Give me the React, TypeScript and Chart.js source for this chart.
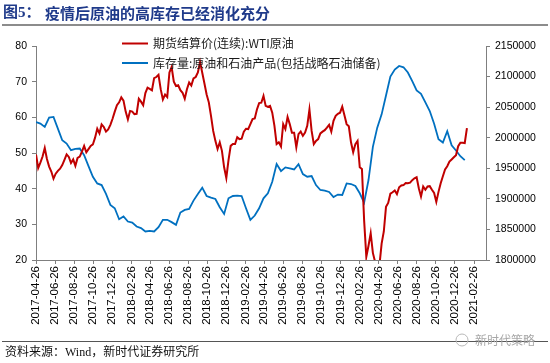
import React, { useEffect, useRef } from 'react';
import { Chart, registerables } from 'chart.js';

Chart.register(...registerables);

// ---- texts ----
const TITLE_PREFIX = '图5：';
const TITLE = '疫情后原油的高库存已经消化充分';
const SOURCE = '资料来源：Wind，新时代证券研究所';
const WATERMARK = '新时代策略';

// ---- dates / categories ----
const startDate = '2017-04-26';
const axisEndDate = '2021-04-05';
const tickLabels = [
  '2017-04-26', '2017-06-26', '2017-08-26', '2017-10-26', '2017-12-26',
  '2018-02-26', '2018-04-26', '2018-06-26', '2018-08-26', '2018-10-26', '2018-12-26',
  '2019-02-26', '2019-04-26', '2019-06-26', '2019-08-26', '2019-10-26', '2019-12-26',
  '2020-02-26', '2020-04-26', '2020-06-26', '2020-08-26', '2020-10-26', '2020-12-26',
  '2021-02-26',
];

// ---- series ----
const wtiLabel = '期货结算价(连续):WTI原油';
const invLabel = '库存量:原油和石油产品(包括战略石油储备)';
const wtiStepDays = 7; // weekly samples from startDate
const invStepDays = 14; // bi-weekly samples from startDate

const wtiWeekly = [
  49.6, 45.8, 47.3, 49.0, 51.4, 48.3, 46.2, 44.8, 42.8, 44.2,
  45.0, 45.6, 46.6, 48.1, 49.6, 48.9, 47.2, 48.2, 46.4, 48.6,
  49.0, 50.4, 52.0, 50.2, 51.1, 52.0, 52.4, 54.3, 56.8, 55.5,
  58.0, 57.3, 56.0, 56.6, 57.9, 59.6, 61.6, 63.4, 64.2, 65.6,
  64.7, 61.6, 59.4, 61.8, 61.6, 60.9, 61.0, 65.2, 64.4, 63.4,
  66.8, 68.3, 68.0, 67.6, 71.0, 71.3, 71.9, 67.9, 65.0, 66.4,
  65.7, 72.6, 74.1, 70.0, 68.8, 69.0, 67.6, 66.9, 65.2, 67.9,
  69.8, 68.9, 70.9, 71.3, 72.6, 75.5, 72.5, 69.5, 66.4, 64.2,
  60.4, 56.2, 53.4, 51.1, 53.0, 50.6, 46.0, 43.0, 48.0, 52.0,
  52.5, 52.5, 54.4, 53.9, 54.0, 56.0, 56.8, 56.7, 58.1, 59.5,
  59.7, 62.2, 64.0, 64.1, 66.0, 63.2, 62.9, 63.2, 61.3, 57.6,
  52.5, 53.0, 51.8, 58.1, 56.7, 60.1, 58.1, 55.7, 55.7, 51.6,
  55.3, 56.0, 54.8, 55.7, 57.6, 62.2, 56.2, 52.5, 53.4, 53.9,
  55.5, 56.0, 56.4, 57.1, 57.9, 56.0, 59.0, 60.4, 61.0, 61.3,
  63.0, 60.6, 58.1, 57.5, 53.0, 50.2, 52.5, 53.4, 46.0, 45.5,
  31.1, 20.9, 24.0, 27.5, 22.0, 19.5, 10.0, 18.5, 24.6, 28.0,
  34.9, 36.0, 38.6, 39.0, 39.5, 38.5, 40.4, 40.9, 41.0, 41.6,
  41.5, 41.7, 42.4, 42.9, 43.2, 40.1, 37.8, 40.6, 39.7, 40.6,
  40.7, 39.7, 38.8, 36.3, 39.1, 41.5, 43.5, 45.4, 46.3, 47.6,
  48.2, 48.8, 49.4, 51.9, 52.9, 52.9, 52.8, 57.0,
];

const invBiweekly = [
  2025700, 2023000, 2017600, 2033000, 2034000, 2014900, 1995900, 1990500, 1979600, 1981800,
  1982300, 1971500, 1953600, 1936200, 1925300, 1922600, 1908000, 1890100, 1884600, 1866700,
  1871100, 1862900, 1861300, 1854800, 1852100, 1846700, 1847700, 1846700, 1853700, 1865700,
  1865700, 1861900, 1857500, 1877600, 1881900, 1883600, 1897100, 1908000, 1918300, 1904700,
  1902000, 1899800, 1886300, 1875400, 1900900, 1904700, 1905300, 1904700, 1884600, 1865700,
  1872700, 1884600, 1900900, 1909100, 1928000, 1956800, 1945400, 1951400, 1949800, 1948100,
  1956800, 1940500, 1936200, 1937300, 1922600, 1914500, 1913400, 1911200, 1903000, 1907000,
  1906300, 1925300, 1924300, 1921000, 1909100, 1893900, 1930800, 1985000, 2016500, 2038200,
  2069100, 2100100, 2111500, 2117400, 2115200, 2106600, 2092500, 2077300, 2071800, 2057700,
  2043600, 2023000, 1997500, 1992100, 2010500, 1987700, 1979100, 1969800, 1963300,
];

const leftMin = 20;
const leftMax = 80;
const leftStep = 10;
const rightMin = 1800000;
const rightMax = 2150000;
const rightStep = 50000;

const RED = '#C00000';
const BLUE = '#0070C0';

function dayOf(s: string): number {
  const [y, m, d] = s.split('-').map(Number);
  const [y0, m0, d0] = startDate.split('-').map(Number);
  return Math.round((Date.UTC(y, m - 1, d) - Date.UTC(y0, m0 - 1, d0)) / 86400000);
}

const decorPlugin = {
  id: 'decor',
  afterDraw(chart: any) {
    const ctx = chart.ctx as CanvasRenderingContext2D;
    ctx.save();
    // title
    ctx.textBaseline = 'middle';
    ctx.textAlign = 'left';
    ctx.fillStyle = '#1F3A8A';
    ctx.font = 'bold 15px "Liberation Serif", "Noto Sans CJK SC"';
    ctx.fillText(TITLE_PREFIX, 3, 13);
    ctx.font = 'bold 15px "Noto Sans CJK SC"';
    ctx.fillText(TITLE, 45, 13);
    // rules
    ctx.strokeStyle = '#8C8C8C';
    ctx.lineWidth = 2;
    ctx.beginPath();
    ctx.moveTo(2, 25);
    ctx.lineTo(548, 25);
    ctx.stroke();
    ctx.strokeStyle = '#555555';
    ctx.lineWidth = 1;
    ctx.beginPath();
    ctx.moveTo(2, 341.5);
    ctx.lineTo(548, 341.5);
    ctx.stroke();
    // source
    ctx.fillStyle = '#111111';
    ctx.font = '12px "Liberation Serif", "Noto Sans CJK SC"';
    ctx.fillText(SOURCE, 5, 353);
    // watermark
    ctx.fillStyle = '#A8A8A8';
    ctx.font = '12px "Noto Sans CJK SC"';
    ctx.fillText(WATERMARK, 475, 340);
    ctx.strokeStyle = '#B8B8B8';
    ctx.lineWidth = 1;
    ctx.beginPath();
    ctx.arc(462, 340, 6, 0, Math.PI * 2);
    ctx.stroke();
    // legend
    chart.data.datasets.forEach((ds: any, i: number) => {
      const y = 43.5 + i * 19.5;
      ctx.strokeStyle = ds.borderColor;
      ctx.lineWidth = 2;
      ctx.beginPath();
      ctx.moveTo(122, y);
      ctx.lineTo(148, y);
      ctx.stroke();
      ctx.fillStyle = '#1A1A1A';
      ctx.font = '12px "Noto Sans CJK SC"';
      ctx.fillText(ds.label, 153, y);
    });
    ctx.restore();
  },
};

export default function App() {
  const ref = useRef<HTMLCanvasElement | null>(null);

  useEffect(() => {
    if (!ref.current) return;
    const tickDays = tickLabels.map(dayOf);
    const labelByDay = new Map<number, string>();
    tickLabels.forEach((l, i) => labelByDay.set(tickDays[i], l));

    const tickFont = { family: '"Liberation Sans", Arial, sans-serif', size: 10.5 };
    const axisColor = '#7F7F7F';

    const chart = new Chart(ref.current, {
      type: 'line',
      data: {
        datasets: [
          {
            label: wtiLabel,
            data: wtiWeekly.map((v, i) => ({ x: i * wtiStepDays, y: v })),
            borderColor: RED,
            backgroundColor: RED,
            borderWidth: 2,
            pointRadius: 0,
            tension: 0,
            yAxisID: 'y',
          },
          {
            label: invLabel,
            data: invBiweekly.map((v, i) => ({ x: i * invStepDays, y: v })),
            borderColor: BLUE,
            backgroundColor: BLUE,
            borderWidth: 1.8,
            pointRadius: 0,
            tension: 0,
            yAxisID: 'y1',
          },
        ],
      },
      options: {
        responsive: false,
        animation: false,
        devicePixelRatio: 1,
        layout: { padding: { top: 46, left: 0, right: 0, bottom: 0 } },
        plugins: {
          legend: { display: false },
          tooltip: { enabled: false },
        },
        scales: {
          x: {
            type: 'linear',
            min: 0,
            max: dayOf(axisEndDate),
            afterBuildTicks: (s: any) => {
              s.ticks = tickDays.map((v) => ({ value: v }));
            },
            afterFit: (s: any) => {
              s.height = 103;
            },
            ticks: {
              autoSkip: false,
              maxRotation: 90,
              minRotation: 90,
              padding: 2,
              color: '#000',
              font: { ...tickFont, size: 11.5 },
              callback: (v: any) => labelByDay.get(Number(v)) ?? '',
            },
            grid: { drawOnChartArea: false, drawTicks: true, tickLength: 4, color: axisColor },
            border: { display: true, color: axisColor, width: 1 },
          },
          y: {
            position: 'left',
            min: leftMin,
            max: leftMax,
            afterFit: (s: any) => {
              s.width = 36;
            },
            ticks: { stepSize: leftStep, color: '#000', font: tickFont, padding: 5 },
            grid: { drawOnChartArea: false, drawTicks: true, tickLength: 4, color: axisColor },
            border: { display: true, color: axisColor, width: 1 },
          },
          y1: {
            position: 'right',
            min: rightMin,
            max: rightMax,
            afterFit: (s: any) => {
              s.width = 64;
            },
            ticks: {
              stepSize: rightStep,
              color: '#000',
              font: tickFont,
              padding: 5,
              callback: (v: any) => String(v),
            },
            grid: { drawOnChartArea: false, drawTicks: true, tickLength: 4, color: axisColor },
            border: { display: true, color: axisColor, width: 1 },
          },
        },
      },
      plugins: [decorPlugin],
    } as any);

    return () => chart.destroy();
  }, []);

  return (
    <div style={{ position: 'absolute', left: 0, top: 0, width: 550, height: 363, background: '#fff' }}>
      <canvas ref={ref} width={550} height={363} style={{ display: 'block' }} />
    </div>
  );
}
